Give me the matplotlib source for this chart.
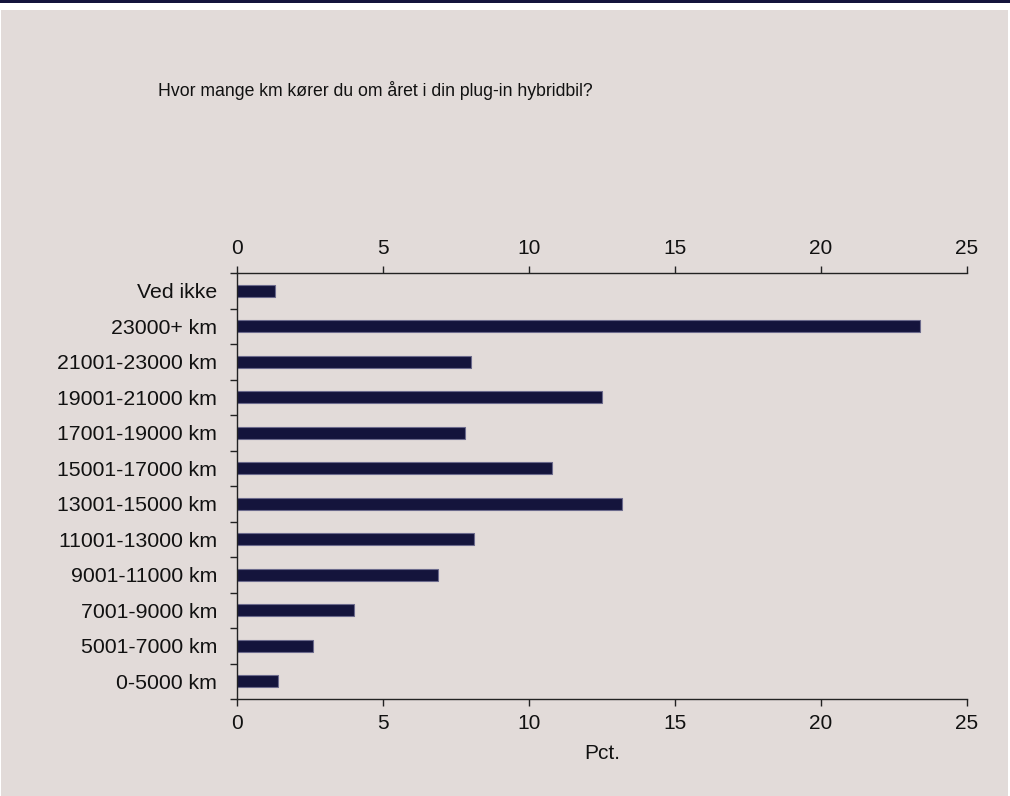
from matplotlib import pyplot as plt
from matplotlib.patches import Rectangle
from matplotlib.ticker import FixedLocator

categories = ["0-5000 km", "5001-7000 km", "7001-9000 km", "9001-11000 km",
              "11001-13000 km", "13001-15000 km", "15001-17000 km",
              "17001-19000 km", "19001-21000 km", "21001-23000 km",
              "23000+ km", "Ved ikke"]
pct = [1.4, 2.6, 4.0, 6.9, 8.1, 13.2, 10.8, 7.8, 12.5, 8.0, 23.4, 1.3]
xticks = [0, 5, 10, 15, 20, 25]

plt.rcParams["font.family"] = ["Liberation Sans", "DejaVu Sans"]

W, H = 1010, 796
bg = "#e2dbd9"
navy = "#14143c"

fig = plt.figure(figsize=(W / 100, H / 100), dpi=100, facecolor="white")
# panel and top band
fig.patches.append(Rectangle((1 / W, 0), 1007 / W, 1 - 10 / H, transform=fig.transFigure,
                             facecolor=bg, edgecolor="none", zorder=-5))
fig.patches.append(Rectangle((0, 1 - 3 / H), 1, 3 / H, transform=fig.transFigure,
                             facecolor=navy, edgecolor="none", zorder=-5))

ax = fig.add_axes([237 / W, 1 - 699 / H, 730 / W, 426 / H])
ax.set_facecolor("none")

y = range(len(categories))
ax.barh(y, pct, height=0.35, color=navy, edgecolor="#6b6a8c", linewidth=0.8)

ax.set_xlim(0, 25)
ax.set_ylim(-0.5, len(categories) - 0.5)
ax.set_xticks(xticks)
ax.set_xticklabels([str(t) for t in xticks])
ax.tick_params(axis="x", top=True, labeltop=True, bottom=True, labelbottom=True,
               direction="out", length=5, width=1, labelsize=15, pad=6, color="#222222",
               labelcolor="#111111")

ax.set_yticks(list(y))
ax.set_yticklabels(categories)
ax.yaxis.set_minor_locator(FixedLocator([i - 0.5 for i in range(len(categories) + 1)]))
ax.tick_params(axis="y", which="major", length=0, labelsize=15.3, pad=14.4,
               labelcolor="#111111")
ax.tick_params(axis="y", which="minor", length=5, width=1, direction="out", color="#222222")

for side in ["top", "bottom", "left"]:
    ax.spines[side].set_color("#222222")
    ax.spines[side].set_linewidth(1)
ax.spines["right"].set_visible(False)

ax.set_xlabel("Pct.", fontsize=15, labelpad=8, color="#111111")

fig.text(158 / W, 1 - 90 / H, "Hvor mange km kører du om året i din plug-in hybridbil?",
         fontsize=12.7, va="center", ha="left", color="#111111")

fig.savefig("out.png", dpi=100, facecolor=fig.get_facecolor())
